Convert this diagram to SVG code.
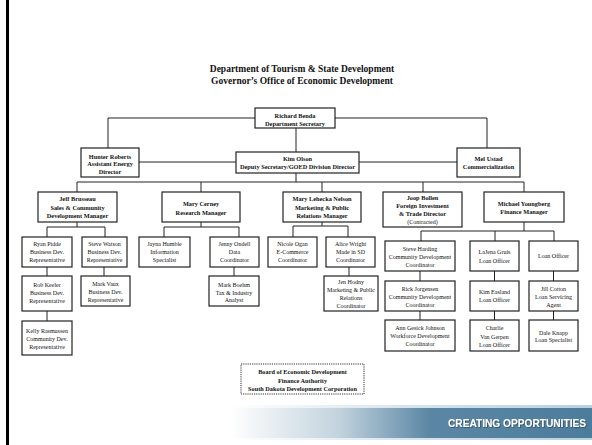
<svg xmlns="http://www.w3.org/2000/svg" width="592" height="445" viewBox="0 0 592 445">
<style>
text{font-family:"Liberation Serif","Times New Roman",serif;text-anchor:middle;fill:#111}
.t{font-size:9.5px;font-weight:bold}
.b{font-size:6.3px;font-weight:bold}
.r{font-size:6px}
.box{fill:#fff;stroke:#222;stroke-width:1.2}
.dot{fill:#fff;stroke:#333;stroke-width:1;stroke-dasharray:1.2 1}
#connectors path{fill:none;stroke:#222;stroke-width:1}
.ban{font-family:"Liberation Sans",Arial,sans-serif;font-weight:bold;font-size:10.5px;fill:#fff;text-anchor:start}
</style>
<defs>
<linearGradient id="g" x1="230" y1="0" x2="592" y2="0" gradientUnits="userSpaceOnUse">
<stop offset="0" stop-color="#ffffff"/>
<stop offset="0.3" stop-color="#c3d3de"/>
<stop offset="0.55" stop-color="#5b87a5"/>
<stop offset="1" stop-color="#4c7c9c"/>
</linearGradient>
<linearGradient id="g2" x1="230" y1="0" x2="592" y2="0" gradientUnits="userSpaceOnUse">
<stop offset="0" stop-color="#ffffff"/>
<stop offset="0.5" stop-color="#d6e3ec"/>
<stop offset="1" stop-color="#b9d0df"/>
</linearGradient>
<filter id="sh" x="-5%" y="-30%" width="110%" height="160%">
<feDropShadow dx="0.8" dy="0.8" stdDeviation="0.3" flood-color="#2a4a60" flood-opacity="0.9"/>
</filter>
</defs>
<rect width="592" height="445" fill="#fff"/>
<rect x="6" y="0" width="3" height="445" fill="#000"/>

<g id="banner">
<rect x="230" y="405" width="362" height="3" fill="url(#g2)"/>
<rect x="230" y="408" width="362" height="30" fill="url(#g)"/>
<rect x="230" y="438" width="362" height="2" fill="url(#g2)"/>
<text class="ban" x="448" y="427" textLength="138" lengthAdjust="spacingAndGlyphs" filter="url(#sh)">CREATING OPPORTUNITIES</text>
</g>

<g id="title">
<text class="t" x="302" y="72">Department of Tourism &amp; State Development</text>
<text class="t" x="302" y="84">Governor’s Office of Economic Development</text>
</g>

<g id="connectors">
<path d="M255 118H108V148"/>
<path d="M335 118H487V148"/>
<path d="M296 128V152"/>
<path d="M139 162H236"/>
<path d="M359 162H457"/>
<path d="M296 173V182"/>
<path d="M77 182H524"/>
<path d="M77 182V192M201 182V192M322 182V192M423 182V192M524 182V192"/>
<path d="M77 222V227M47 227H105M47 227V237M105 227V237"/>
<path d="M47 267V276M47 311V321M104 267V276"/>
<path d="M201 222V227M164 227H239M164 227V237M239 227V237"/>
<path d="M234 267V276"/>
<path d="M322 222V226M293 226H348M293 226V237M348 226V237"/>
<path d="M349 267V276"/>
<path d="M524 222V231M421 231H554M421 231V241M495 231V241M554 231V241"/>
<path d="M420 271V281M420 311V320M494.5 271V281M494.5 311V320M553.5 271V281M553.5 311V320"/>
</g>

<g id="benda"><rect class="box" x="255" y="108" width="80" height="20"/>
<text class="b" x="295" y="117.5">Richard Benda</text><text class="b" x="295" y="125.5">Department Secretary</text></g>

<g id="hunter"><rect class="box" x="81" y="148" width="58" height="29"/>
<text class="b" x="110" y="158.5">Hunter Roberts</text><text class="b" x="110" y="166">Assistant Energy</text><text class="b" x="110" y="174">Director</text></g>

<g id="kim"><rect class="box" x="236" y="152" width="123" height="21"/>
<text class="b" x="297.5" y="160.5">Kim Olson</text><text class="b" x="297.5" y="169">Deputy Secretary/GOED Division Director</text></g>

<g id="mel"><rect class="box" x="457" y="148" width="63" height="29"/>
<text class="b" x="488.5" y="160.5">Mel Ustad</text><text class="b" x="488.5" y="168.5">Commercialization</text></g>

<g id="jeff"><rect class="box" x="38" y="192" width="79" height="30"/>
<text class="b" x="77.5" y="201.2">Jeff Brusseau</text><text class="b" x="77.5" y="209.7">Sales &amp; Community</text><text class="b" x="77.5" y="218.2">Development Manager</text></g>

<g id="cerney"><rect class="box" x="162" y="192" width="78" height="30"/>
<text class="b" x="201" y="206">Mary Cerney</text><text class="b" x="201" y="214.5">Research Manager</text></g>

<g id="nelson"><rect class="box" x="283" y="192" width="78" height="30"/>
<text class="b" x="322" y="201.2">Mary Lehecka Nelson</text><text class="b" x="322" y="209.7">Marketing &amp; Public</text><text class="b" x="322" y="218.2">Relations Manager</text></g>

<g id="bollen"><rect class="box" x="383" y="192" width="79" height="35"/>
<text class="b" x="422.5" y="199.5">Joop Bollen</text><text class="b" x="422.5" y="207.5">Foreign Investment</text><text class="b" x="422.5" y="215.5">&amp; Trade Director</text><text class="r" x="422.5" y="223.5">(Contracted)</text></g>

<g id="youngberg"><rect class="box" x="484" y="192" width="80" height="30"/>
<text class="b" x="524" y="205.5">Michael Youngberg</text><text class="b" x="524" y="213.5">Finance Manager</text></g>

<g id="pidde"><rect class="box" x="22" y="237" width="50" height="30"/>
<text class="r" x="47" y="246">Ryan Pidde</text><text class="r" x="47" y="254">Business Dev.</text><text class="r" x="47" y="261.5">Representative</text></g>

<g id="watson"><rect class="box" x="82" y="237" width="45" height="30"/>
<text class="r" x="104.5" y="246">Steve Watson</text><text class="r" x="104.5" y="254">Business Dev.</text><text class="r" x="104.5" y="261.5">Representative</text></g>

<g id="keeler"><rect class="box" x="22" y="276" width="50" height="35"/>
<text class="r" x="47" y="287">Rob Keeler</text><text class="r" x="47" y="295">Business Dev.</text><text class="r" x="47" y="303">Representative</text></g>

<g id="vaux"><rect class="box" x="81" y="276" width="49" height="30"/>
<text class="r" x="105.5" y="286">Mark Vaux</text><text class="r" x="105.5" y="294">Business Dev.</text><text class="r" x="105.5" y="301.5">Representative</text></g>

<g id="rasmussen"><rect class="box" x="22" y="321" width="50" height="34"/>
<text class="r" x="47" y="333">Kelly Rasmussen</text><text class="r" x="47" y="341">Community Dev.</text><text class="r" x="47" y="349">Representative</text></g>

<g id="humble"><rect class="box" x="139" y="237" width="51" height="30"/>
<text class="r" x="164.5" y="246">Jayna Humble</text><text class="r" x="164.5" y="254">Information</text><text class="r" x="164.5" y="261.5">Specialist</text></g>

<g id="ondell"><rect class="box" x="210" y="237" width="49" height="30"/>
<text class="r" x="234.5" y="246">Jenny Ondell</text><text class="r" x="234.5" y="254">Data</text><text class="r" x="234.5" y="261.5">Coordinator</text></g>

<g id="boehm"><rect class="box" x="209" y="276" width="50" height="30"/>
<text class="r" x="234" y="287">Mark Boehm</text><text class="r" x="234" y="294.5">Tax &amp; Industry</text><text class="r" x="234" y="302">Analyst</text></g>

<g id="ogan"><rect class="box" x="268" y="237" width="49" height="30"/>
<text class="r" x="292.5" y="246">Nicole Ogan</text><text class="r" x="292.5" y="254">E-Commerce</text><text class="r" x="292.5" y="261.5">Coordinator</text></g>

<g id="wright"><rect class="box" x="326" y="237" width="49" height="30"/>
<text class="r" x="350.5" y="246">Alice Wright</text><text class="r" x="350.5" y="254">Made in SD</text><text class="r" x="350.5" y="261.5">Coordinator</text></g>

<g id="hodny"><rect class="box" x="324" y="276" width="54" height="35"/>
<text class="r" x="351" y="284">Jen Hodny</text><text class="r" x="351" y="292">Marketing &amp; Public</text><text class="r" x="351" y="300">Relations</text><text class="r" x="351" y="308">Coordinator</text></g>

<g id="harding"><rect class="box" x="385" y="241" width="70" height="30"/>
<text class="r" x="420" y="251">Steve Harding</text><text class="r" x="420" y="259">Community Development</text><text class="r" x="420" y="267">Coordinator</text></g>

<g id="jorgensen"><rect class="box" x="385" y="281" width="70" height="30"/>
<text class="r" x="420" y="290.5">Rick Jorgensen</text><text class="r" x="420" y="298.5">Community Development</text><text class="r" x="420" y="307">Coordinator</text></g>

<g id="johnson"><rect class="box" x="385" y="320" width="70" height="31"/>
<text class="r" x="420" y="330">Ann Gesick Johnson</text><text class="r" x="420" y="338">Workforce Development</text><text class="r" x="420" y="346">Coordinator</text></g>

<g id="gruis"><rect class="box" x="470" y="241" width="49" height="30"/>
<text class="r" x="494.5" y="254">LaJena Gruis</text><text class="r" x="494.5" y="263">Loan Officer</text></g>

<g id="easland"><rect class="box" x="470" y="281" width="49" height="30"/>
<text class="r" x="494.5" y="294">Kim Easland</text><text class="r" x="494.5" y="302">Loan Officer</text></g>

<g id="vangerpen"><rect class="box" x="470" y="320" width="49" height="31"/>
<text class="r" x="494.5" y="330">Charlie</text><text class="r" x="494.5" y="339">Van Gerpen</text><text class="r" x="494.5" y="346.5">Loan Officer</text></g>

<g id="loanofficer"><rect class="box" x="529" y="241" width="49" height="30"/>
<text class="r" x="553.5" y="258">Loan Officer</text></g>

<g id="cotton"><rect class="box" x="529" y="281" width="49" height="30"/>
<text class="r" x="553.5" y="290.5">Jill Cotton</text><text class="r" x="553.5" y="298.5">Loan Servicing</text><text class="r" x="553.5" y="307">Agent</text></g>

<g id="knapp"><rect class="box" x="529" y="320" width="49" height="31"/>
<text class="r" x="553.5" y="334.5">Dale Knapp</text><text class="r" x="553.5" y="342">Loan Specialist</text></g>

<g id="board"><rect class="dot" x="241" y="364" width="123" height="30"/>
<text class="b" x="302.5" y="374">Board of Economic Development</text><text class="b" x="302.5" y="383">Finance Authority</text><text class="b" x="302.5" y="390.5">South Dakota Development Corporation</text></g>
</svg>
